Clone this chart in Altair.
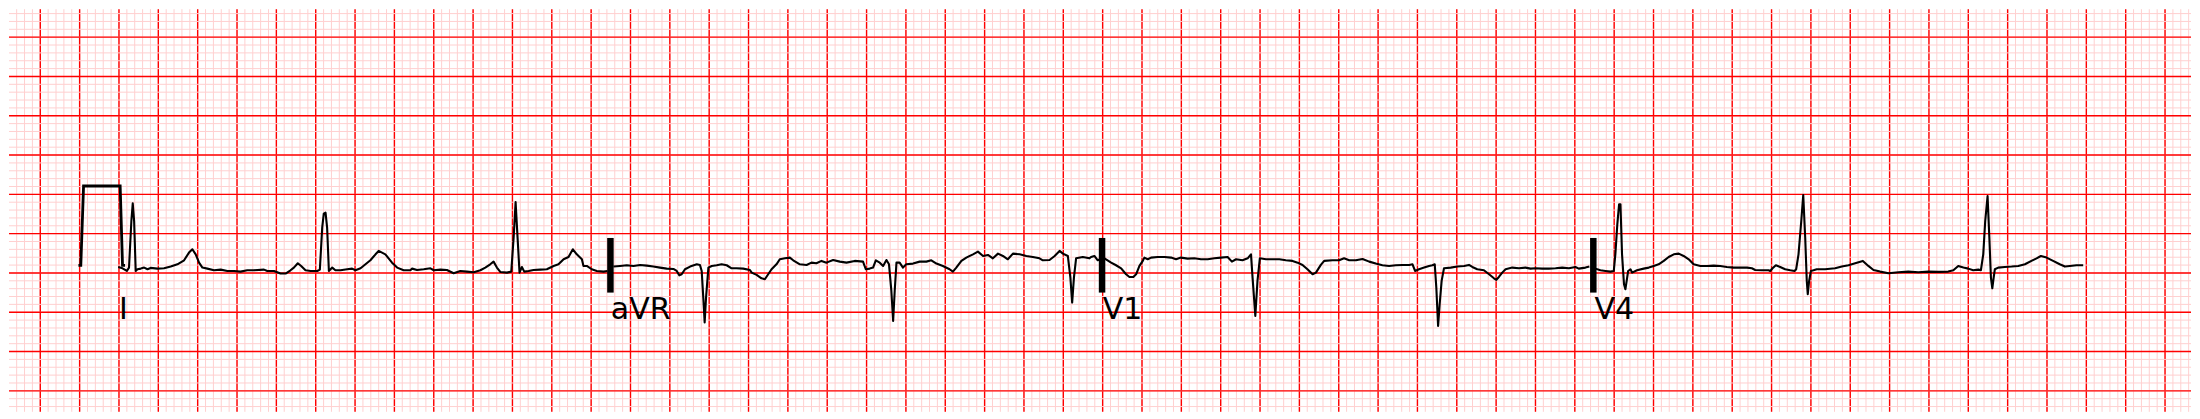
import altair as alt
import pandas as pd
import numpy as np

# ---- visible window (seconds, millivolts) ----
X_DOMAIN = [0.041, 11.132]
Y_DOMAIN = [-1.767, 3.356]

# ---- calibration pulse ----
PULSE = [(0.394, 0.097), (0.406, 0.097), (0.420, 1.106), (0.606, 1.106),
         (0.618, 0.097), (0.631, 0.097)]

# ---- lead traces (time s, amplitude mV) ----
LEAD_I = [
    (0.596, 0.076), (0.618, 0.059), (0.640, 0.025), (0.651, 0.068), (0.663, 0.661),
    (0.670, 0.886), (0.677, 0.661), (0.685, 0.025), (0.694, 0.047), (0.711, 0.055),
    (0.728, 0.068), (0.745, 0.047), (0.761, 0.064), (0.795, 0.055), (0.829, 0.059),
    (0.863, 0.081), (0.897, 0.110), (0.931, 0.161), (0.956, 0.259), (0.973, 0.301),
    (0.990, 0.237), (1.007, 0.131), (1.024, 0.068), (1.049, 0.055), (1.083, 0.034),
    (1.117, 0.042), (1.151, 0.025), (1.185, 0.025), (1.218, 0.017), (1.252, 0.034),
    (1.286, 0.034), (1.337, 0.042), (1.354, 0.025), (1.388, 0.025), (1.421, -0.008),
    (1.447, -0.008), (1.472, 0.034), (1.489, 0.068), (1.509, 0.123), (1.526, 0.089),
    (1.548, 0.034), (1.574, 0.025), (1.608, 0.025), (1.621, 0.042), (1.633, 0.576),
    (1.641, 0.754), (1.650, 0.767), (1.658, 0.576), (1.667, 0.025), (1.684, 0.068),
    (1.700, 0.034), (1.726, 0.034), (1.760, 0.047), (1.785, 0.055), (1.802, 0.034),
    (1.828, 0.059), (1.853, 0.110), (1.878, 0.161), (1.904, 0.237), (1.920, 0.280),
    (1.954, 0.237), (1.988, 0.131), (2.014, 0.068), (2.047, 0.034), (2.081, 0.034),
    (2.090, 0.055), (2.115, 0.038), (2.149, 0.047), (2.183, 0.059), (2.200, 0.034),
    (2.234, 0.042), (2.267, 0.038), (2.301, -0.004), (2.335, 0.025), (2.369, 0.017),
    (2.403, 0.008), (2.437, 0.034), (2.462, 0.068), (2.487, 0.110), (2.504, 0.144),
    (2.521, 0.068), (2.538, 0.013), (2.572, 0.004), (2.594, 0.017), (2.606, 0.449),
    (2.616, 0.903), (2.626, 0.449), (2.636, 0.004), (2.648, 0.076), (2.660, 0.017),
    (2.682, 0.025), (2.707, 0.038), (2.741, 0.042), (2.775, 0.047), (2.809, 0.089),
    (2.834, 0.110), (2.860, 0.174), (2.885, 0.203), (2.907, 0.301), (2.927, 0.237),
    (2.953, 0.174), (2.961, 0.089), (2.978, 0.089), (3.003, 0.047), (3.029, 0.025),
    (3.063, 0.017), (3.083, 0.025),
]

LEAD_AVR = [
    (3.113, 0.081), (3.147, 0.089), (3.181, 0.098), (3.215, 0.089), (3.249, 0.102),
    (3.283, 0.093), (3.316, 0.081), (3.350, 0.068), (3.384, 0.055), (3.418, 0.051),
    (3.435, 0.025), (3.448, -0.030), (3.460, -0.017), (3.477, 0.047), (3.503, 0.081),
    (3.537, 0.110), (3.553, 0.102), (3.562, 0.025), (3.570, -0.314), (3.577, -0.631),
    (3.584, -0.314), (3.596, 0.068), (3.613, 0.089), (3.638, 0.098), (3.663, 0.110),
    (3.689, 0.098), (3.714, 0.059), (3.739, 0.059), (3.773, 0.055), (3.807, 0.038),
    (3.816, 0.004), (3.841, -0.025), (3.866, -0.068), (3.883, -0.080), (3.900, -0.017),
    (3.917, 0.047), (3.942, 0.110), (3.959, 0.174), (3.985, 0.186), (4.010, 0.195),
    (4.027, 0.161), (4.061, 0.110), (4.095, 0.102), (4.120, 0.131), (4.145, 0.123),
    (4.171, 0.153), (4.196, 0.131), (4.230, 0.165), (4.264, 0.144), (4.298, 0.131),
    (4.340, 0.153), (4.382, 0.144), (4.396, 0.047), (4.416, 0.055), (4.433, 0.068),
    (4.447, 0.161), (4.467, 0.131), (4.484, 0.089), (4.501, 0.165), (4.514, 0.110),
    (4.526, -0.229), (4.535, -0.610), (4.543, -0.229), (4.552, 0.131), (4.568, 0.131),
    (4.585, 0.068), (4.602, 0.110), (4.636, 0.119), (4.670, 0.144), (4.704, 0.144),
    (4.729, 0.161), (4.755, 0.119), (4.788, 0.089), (4.822, 0.047), (4.839, 0.017),
    (4.856, 0.068), (4.882, 0.153), (4.907, 0.195), (4.941, 0.237), (4.966, 0.271),
    (4.992, 0.216), (5.017, 0.229), (5.042, 0.186), (5.068, 0.246), (5.093, 0.216),
    (5.118, 0.174), (5.144, 0.246), (5.178, 0.237), (5.212, 0.216), (5.245, 0.203),
    (5.279, 0.186), (5.296, 0.161), (5.330, 0.165), (5.356, 0.216), (5.381, 0.280),
    (5.398, 0.246), (5.423, 0.216), (5.436, -0.059), (5.445, -0.377), (5.454, -0.059),
    (5.465, 0.186), (5.499, 0.203), (5.533, 0.186), (5.541, 0.203), (5.558, 0.216),
    (5.575, 0.161), (5.587, 0.174),
]

LEAD_V1 = [
    (5.609, 0.186), (5.643, 0.131), (5.668, 0.098), (5.694, 0.059), (5.719, -0.017),
    (5.736, -0.051), (5.756, -0.051), (5.770, -0.017), (5.787, 0.089), (5.804, 0.153),
    (5.812, 0.195), (5.829, 0.174), (5.846, 0.195), (5.880, 0.203), (5.914, 0.203),
    (5.948, 0.195), (5.973, 0.174), (5.998, 0.195), (6.032, 0.182), (6.066, 0.186),
    (6.100, 0.174), (6.134, 0.174), (6.168, 0.186), (6.201, 0.195), (6.235, 0.203),
    (6.257, 0.144), (6.278, 0.174), (6.311, 0.161), (6.337, 0.186), (6.354, 0.237),
    (6.362, -0.059), (6.376, -0.546), (6.387, -0.101), (6.399, 0.186), (6.430, 0.174),
    (6.464, 0.174), (6.498, 0.174), (6.531, 0.161), (6.565, 0.153), (6.591, 0.131),
    (6.616, 0.102), (6.641, 0.047), (6.667, -0.017), (6.684, 0.004), (6.709, 0.102),
    (6.726, 0.153), (6.768, 0.161), (6.802, 0.161), (6.827, 0.186), (6.853, 0.161),
    (6.887, 0.161), (6.921, 0.178), (6.955, 0.144), (6.988, 0.119), (7.022, 0.098),
    (7.056, 0.089), (7.090, 0.098), (7.124, 0.102), (7.158, 0.102), (7.175, 0.110),
    (7.188, 0.025), (7.208, 0.047), (7.234, 0.068), (7.259, 0.089), (7.276, 0.098),
    (7.288, 0.110), (7.296, -0.186), (7.305, -0.674), (7.313, -0.398), (7.323, -0.101),
    (7.335, 0.059), (7.369, 0.068), (7.403, 0.081), (7.437, 0.089), (7.462, 0.102),
    (7.479, 0.076), (7.504, 0.047), (7.538, 0.034), (7.564, -0.017), (7.589, -0.068),
    (7.601, -0.089), (7.614, -0.051), (7.631, 0.004), (7.648, 0.047), (7.682, 0.068),
    (7.716, 0.059), (7.749, 0.068), (7.775, 0.055), (7.800, 0.059), (7.834, 0.055),
    (7.868, 0.055), (7.902, 0.059), (7.936, 0.068), (7.970, 0.059), (8.003, 0.076),
    (8.020, 0.055), (8.054, 0.068), (8.074, 0.081),
]

LEAD_V4 = [
    (8.105, 0.055), (8.130, 0.034), (8.156, 0.025), (8.181, 0.017), (8.198, 0.025),
    (8.206, 0.237), (8.216, 0.619), (8.225, 0.873), (8.232, 0.873), (8.240, 0.237),
    (8.250, -0.144), (8.257, -0.208), (8.266, -0.059), (8.271, 0.025), (8.283, 0.047),
    (8.291, 0.004), (8.316, 0.034), (8.350, 0.055), (8.376, 0.068), (8.401, 0.089),
    (8.426, 0.110), (8.452, 0.153), (8.477, 0.203), (8.503, 0.237), (8.528, 0.246),
    (8.553, 0.216), (8.579, 0.174), (8.604, 0.110), (8.638, 0.089), (8.672, 0.089),
    (8.706, 0.093), (8.739, 0.089), (8.773, 0.076), (8.807, 0.068), (8.841, 0.068),
    (8.875, 0.068), (8.900, 0.059), (8.917, 0.038), (8.951, 0.034), (8.985, 0.034),
    (8.993, 0.025), (9.005, 0.059), (9.022, 0.098), (9.044, 0.076), (9.069, 0.047),
    (9.095, 0.034), (9.117, 0.025), (9.125, 0.047), (9.137, 0.237), (9.151, 0.661),
    (9.161, 0.992), (9.171, 0.449), (9.179, -0.101), (9.184, -0.271), (9.191, -0.101),
    (9.200, 0.025), (9.213, 0.034), (9.230, 0.047), (9.272, 0.047), (9.323, 0.059),
    (9.357, 0.081), (9.391, 0.098), (9.425, 0.123), (9.464, 0.153), (9.492, 0.089),
    (9.518, 0.038), (9.552, 0.017), (9.594, -0.004), (9.645, 0.008), (9.695, 0.017),
    (9.746, 0.008), (9.797, 0.017), (9.848, 0.013), (9.898, 0.017), (9.924, 0.034),
    (9.949, 0.089), (9.975, 0.068), (10.000, 0.055), (10.025, 0.034), (10.051, 0.042),
    (10.064, 0.034), (10.076, 0.237), (10.086, 0.661), (10.098, 0.979), (10.107, 0.449),
    (10.115, -0.059), (10.122, -0.195), (10.129, -0.059), (10.135, 0.047), (10.152, 0.068),
    (10.186, 0.076), (10.220, 0.081), (10.254, 0.089), (10.288, 0.110), (10.321, 0.153),
    (10.347, 0.186), (10.369, 0.216), (10.398, 0.195), (10.431, 0.153), (10.465, 0.110),
    (10.491, 0.081), (10.516, 0.089), (10.550, 0.098), (10.584, 0.098),
]

LEAD_NAMES = ["I", "aVR", "V1", "V4"]
LEAD_STARTS = [0.6, 3.1, 5.6, 8.1]
LABEL_Y = -0.585
SEPARATOR_X = [3.098, 5.597, 8.094]
SEPARATOR_Y = [0.445, -0.25]

# ---- build tables ----
rows = []
for name, trace in zip(LEAD_NAMES, [LEAD_I, LEAD_AVR, LEAD_V1, LEAD_V4]):
    for i, (t, v) in enumerate(trace):
        rows.append({"lead": name, "i": i, "t": t, "mv": v})
sig = pd.DataFrame(rows)
pulse = pd.DataFrame([{"i": i, "t": t, "mv": v} for i, (t, v) in enumerate(PULSE)])
labels = pd.DataFrame({"t": LEAD_STARTS, "mv": [LABEL_Y] * 4, "name": LEAD_NAMES})
seps = pd.DataFrame({"t": SEPARATOR_X, "y1": [SEPARATOR_Y[0]] * 3, "y2": [SEPARATOR_Y[1]] * 3})

xs_minor = np.round(np.arange(0, 11.2, 0.04), 3)
xs_minor = [v for v in xs_minor if X_DOMAIN[0] <= v <= X_DOMAIN[1]]
xs_major = np.round(np.arange(0, 11.2, 0.2), 3)
xs_major = [v for v in xs_major if X_DOMAIN[0] <= v <= X_DOMAIN[1]]
ys_minor = np.round(np.arange(-1.8, 3.45, 0.1), 3)
ys_minor = [v for v in ys_minor if Y_DOMAIN[0] <= v <= Y_DOMAIN[1]]
ys_major = np.round(np.arange(-1.5, 3.45, 0.5), 3)
ys_major = [v for v in ys_major if Y_DOMAIN[0] <= v <= Y_DOMAIN[1]]

xsc = alt.Scale(domain=X_DOMAIN, nice=False, zero=False)
ysc = alt.Scale(domain=Y_DOMAIN, nice=False, zero=False)
X = lambda f: alt.X(f, type="quantitative", scale=xsc, axis=None)
Y = lambda f: alt.Y(f, type="quantitative", scale=ysc, axis=None)

MINOR = "#ffd0d0"
MAJOR = "#ff0000"

vminor = alt.Chart(pd.DataFrame({"t": xs_minor})).mark_rule(color=MINOR, strokeWidth=1).encode(x=X("t"))
vmajor = alt.Chart(pd.DataFrame({"t": xs_major})).mark_rule(color=MAJOR, strokeWidth=1.4).encode(x=X("t"))
hminor = alt.Chart(pd.DataFrame({"mv": ys_minor})).mark_rule(color=MINOR, strokeWidth=1).encode(y=Y("mv"))
hmajor = alt.Chart(pd.DataFrame({"mv": ys_major})).mark_rule(color=MAJOR, strokeWidth=1.4).encode(y=Y("mv"))

lines = alt.Chart(sig).mark_line(color="black", strokeWidth=2.1, strokeJoin="round").encode(
    x=X("t"), y=Y("mv"), detail="lead:N", order="i:Q")
pl = alt.Chart(pulse).mark_line(color="black", strokeWidth=2.8, strokeJoin="miter").encode(
    x=X("t"), y=Y("mv"), order="i:Q")
bars = alt.Chart(seps).mark_rule(color="black", strokeWidth=6.5, strokeCap="butt").encode(
    x=X("t"), y=Y("y1"), y2="y2")
txt = alt.Chart(labels).mark_text(align="left", baseline="alphabetic", font="DejaVu Sans",
                                  fontSize=30, color="black").encode(x=X("t"), y=Y("mv"), text="name:N")

chart = alt.layer(vminor, vmajor, hminor, hmajor, lines, pl, bars, txt).properties(
    width=2184, height=403, padding=0, background="white"
).configure_view(stroke=None)

chart.save("out.html", embed_options={"renderer": "svg", "actions": False})
